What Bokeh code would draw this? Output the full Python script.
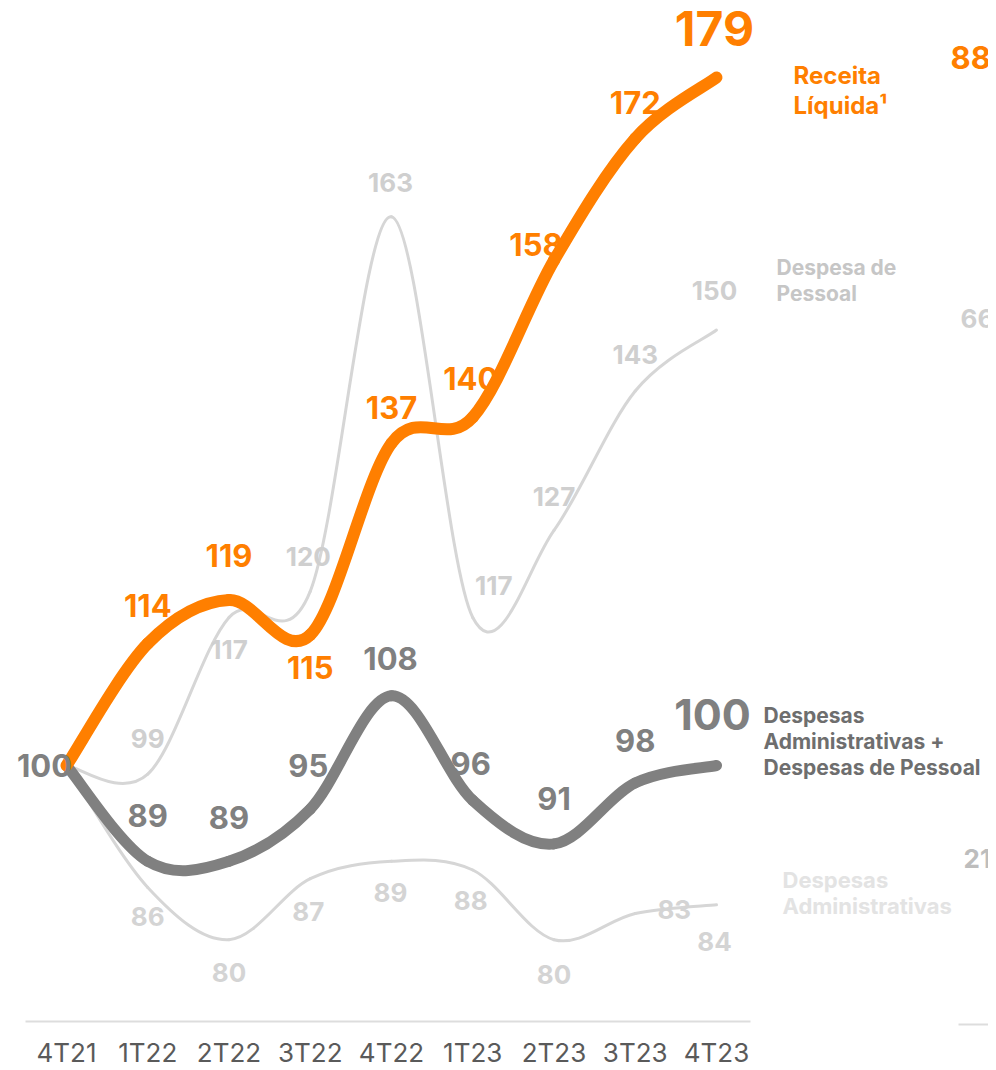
from bokeh.plotting import figure
from bokeh.models import Range1d, FixedTicker
from bokeh.core.properties import value
from bokeh.embed import file_html
from bokeh.resources import INLINE

# ---------------- data ----------------
quarters = ["4T21", "1T22", "2T22", "3T22", "4T22", "1T23", "2T23", "3T23", "4T23"]
receita = [100, 114, 119, 115, 137, 140, 158, 172, 179]
pessoal = [100, 99, 117, 120, 163, 117, 127, 143, 150]
adm_pessoal = [100, 89, 89, 95, 108, 96, 91, 98, 100]
adm = [100, 86, 80, 87, 89, 88, 80, 83, 84]

# label offsets in screen pixels (points 1..8)
receita_dx = [0, 0, 0, 0, -2, -18, 0, -2]
receita_dy = [-38, -45, 33, -36, -39, -16, -36, -49]
adm_pessoal_dx = [0, 0, -2, -1, -2, 0, 0, -4]
adm_pessoal_dy = [-46, -44, -44, -37, -37, -45, -42, -51]
pessoal_dx = [0, 0, -2, -1, 21, 0, 0, -2]
pessoal_dy = [-36, 32, -35, -34, -32, -34, -37, -40]
adm_dx = [0, 0, -2, -1, -2, 0, 39, -2]
adm_dy = [29, 33, 33, 31, 30, 35, -4, 37]

ORANGE = "#FF7F00"
DARK = "#808080"
LIGHT_LINE = "#D6D6D6"
LIGHT_TXT = "#CFCFCF"
FONT = value("Inter")

# pixel <-> data helpers (reference page pixels)
PX0, PXS = 66.0, 81.25
PY0, PYS = 765.0, 8.709


def X(px):
    return (px - PX0) / PXS


def Y(py):
    return 100 + (PY0 - py) / PYS


FRAME_W = 988
FRAME_H = 1026
p = figure(frame_width=FRAME_W, frame_height=FRAME_H,
           x_range=Range1d(X(0), X(FRAME_W)), y_range=Range1d(Y(FRAME_H), Y(0)),
           output_backend="svg", toolbar_location=None, y_axis_location=None,
           min_border=0, min_border_left=0, min_border_right=0, min_border_top=0,
           min_border_bottom=0, outline_line_color=None)
p.grid.visible = False

ax = p.xaxis[0]
ax.ticker = FixedTicker(ticks=list(range(len(quarters))))
ax.major_label_overrides = {i: q for i, q in enumerate(quarters)}
ax.axis_line_color = None
ax.major_tick_line_color = None
ax.minor_tick_line_color = None
ax.major_label_standoff = 4
ax.major_label_text_font = "Inter"
ax.major_label_text_font_size = "26px"
ax.major_label_text_color = "#5A5A5A"

# baseline lines
p.segment(x0=[X(25)], y0=[Y(1021)], x1=[X(750)], y1=[Y(1021)], line_color="#DDDDDD", line_width=2)
p.segment(x0=[X(958)], y0=[Y(1024)], x1=[X(1000)], y1=[Y(1024)], line_color="#DDDDDD", line_width=2)


def smooth(ys):
    """Catmull-Rom style smoothing expressed as cubic Bezier segments."""
    xs = list(range(len(ys)))
    n = len(ys)
    d = dict(x0=[], y0=[], x1=[], y1=[], cx0=[], cy0=[], cx1=[], cy1=[])
    for i in range(n - 1):
        im, ip2 = max(i - 1, 0), min(i + 2, n - 1)
        d["x0"].append(xs[i]); d["y0"].append(ys[i])
        d["x1"].append(xs[i + 1]); d["y1"].append(ys[i + 1])
        d["cx0"].append(xs[i] + (xs[i + 1] - xs[im]) / 6)
        d["cy0"].append(ys[i] + (ys[i + 1] - ys[im]) / 6)
        d["cx1"].append(xs[i + 1] - (xs[ip2] - xs[i]) / 6)
        d["cy1"].append(ys[i + 1] - (ys[ip2] - ys[i]) / 6)
    return d


for ys, col, w in [(adm, LIGHT_LINE, 3), (pessoal, LIGHT_LINE, 3),
                   (adm_pessoal, DARK, 11), (receita, ORANGE, 12)]:
    p.bezier(line_color=col, line_width=w, line_cap="round", **smooth(ys))


def labels(ys, dxs, dys, color, size, last_size=None):
    xs = list(range(1, len(ys)))
    vals = ys[1:]
    sizes = [size] * len(vals)
    if last_size:
        sizes[-1] = last_size
    p.text(x=xs, y=vals, text=[str(v) for v in vals], x_offset=dxs, y_offset=dys,
           text_color=color, text_font=FONT, text_font_style="bold",
           text_font_size=[f"{s}px" for s in sizes],
           text_align="center", text_baseline="middle")


labels(adm, adm_dx, adm_dy, "#D4D4D4", 26)
labels(pessoal, pessoal_dx, pessoal_dy, LIGHT_TXT, 26)
labels(adm_pessoal, adm_pessoal_dx, adm_pessoal_dy, DARK, 31, 43)
labels(receita, receita_dx, receita_dy, ORANGE, 31, 48)
# shared starting value
p.text(x=[0], y=[adm_pessoal[0]], text=[str(adm_pessoal[0])], x_offset=[-22], y_offset=[0],
       text_color=DARK, text_font=FONT, text_font_style="bold", text_font_size="31px",
       text_align="center", text_baseline="middle")


def block(lines, px, pys, color, size):
    p.text(x=[X(px)] * len(lines), y=[Y(v) for v in pys], text=lines,
           text_color=color, text_font=FONT, text_font_style="bold",
           text_font_size=f"{size}px", text_align="left", text_baseline="middle")


block(["Receita", "Líquida¹"], 793, [75, 105], ORANGE, 24)
block(["Despesa de", "Pessoal"], 776, [267, 293], "#C6C6C6", 21)
block(["Despesas", "Administrativas +", "Despesas de Pessoal"], 763, [715, 741, 767], "#6E6E6E", 21)
block(["Despesas", "Administrativas"], 782, [879, 905], "#E3E3E3", 22)

# partially visible neighbouring panel
block(["88,5"], 950, [57], ORANGE, 31)
block(["66,4"], 960, [318], "#D0D0D0", 26)
block(["21,1"], 963, [858], "#BDBDBD", 26)

open("out.html", "w").write(file_html(p, INLINE))
